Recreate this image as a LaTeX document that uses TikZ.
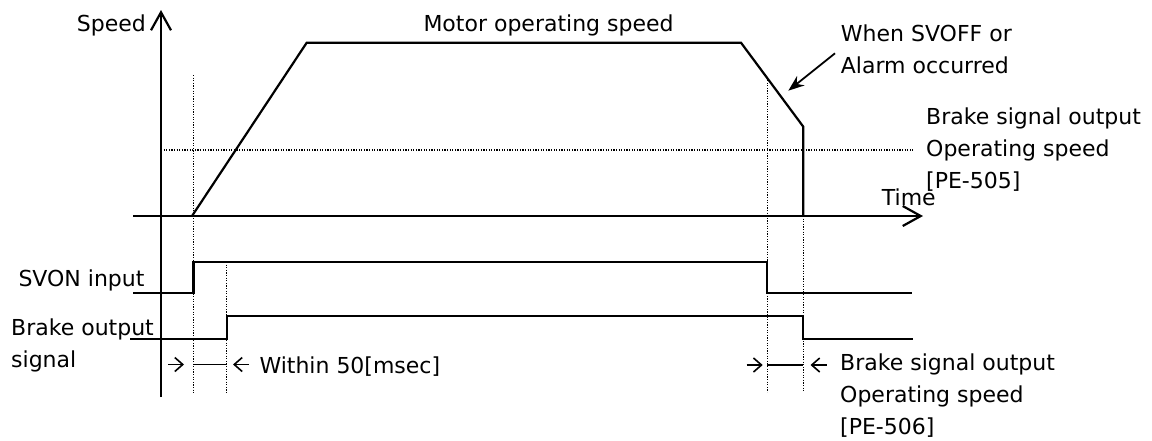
\documentclass[tikz,border=0pt]{standalone}
\usepackage{fontspec}
\setmainfont{DejaVu Sans}
\usetikzlibrary{arrows.meta}
\begin{document}
\begin{tikzpicture}[x=1pt,y=-1pt,
  lbl/.style={inner sep=0pt, font=\fontsize{22}{32}\selectfont},
  wave/.style={line width=2.2pt, line join=miter},
  guide/.style={line width=1.2pt, dash pattern=on 1.2pt off 1.4pt},
  axis/.style={line width=2.2pt, -{Straight Barb[length=18pt,width=20pt]}},
  meas/.style={line width=1.6pt, -{Straight Barb[length=8pt,width=14pt]}},
  gap/.style={line width=1.6pt},
  callout/.style={line width=1.8pt, -{Stealth[length=16pt,width=12pt]}},
]
\useasboundingbox (0,0) rectangle (1152,440);

% axes
\coordinate (ytop) at (161,10);
\coordinate (ybot) at (161,397);
\coordinate (xl) at (133,216);
\coordinate (xr) at (923,216);
\draw[axis] (ybot) -- (ytop);
\draw[axis] (xl) -- (xr);

% speed profile
\coordinate (s0) at (192,216);
\coordinate (s1) at (306.7,42.7);
\coordinate (s2) at (741,42.7);
\coordinate (s3) at (803.3,126.7);
\coordinate (s4) at (803.3,216);
\draw[wave] (s0) -- (s1) -- (s2) -- (s3) -- (s4);

% guides
\coordinate (h0) at (161,150);
\coordinate (h1) at (912.7,150);
\draw[guide] (h0) -- (h1);
\coordinate (g1a) at (193.3,75);   \coordinate (g1b) at (193.3,393);
\coordinate (g2a) at (226.7,262);  \coordinate (g2b) at (226.7,393);
\coordinate (g3a) at (767.3,80);   \coordinate (g3b) at (767.3,392);
\coordinate (g4a) at (803.3,216);  \coordinate (g4b) at (803.3,392);
\draw[guide] (g1a) -- (g1b);
\draw[guide] (g2a) -- (g2b);
\draw[guide] (g3a) -- (g3b);
\draw[guide] (g4a) -- (g4b);

% SVON input
\coordinate (v0) at (133,292.7);
\coordinate (v1) at (193.5,292.7);
\coordinate (v2) at (193.5,262.3);
\coordinate (v3) at (767.3,262.3);
\coordinate (v4) at (767.3,292.7);
\coordinate (v5) at (912,292.7);
\draw[wave] (v0) -- (v1) -- (v2) -- (v3) -- (v4) -- (v5);

% Brake output
\coordinate (b0) at (130,339);
\coordinate (b1) at (226.7,339);
\coordinate (b2) at (226.7,316);
\coordinate (b3) at (803.3,316);
\coordinate (b4) at (803.3,339);
\coordinate (b5) at (913,339);
\draw[wave] (b0) -- (b1) -- (b2) -- (b3) -- (b4) -- (b5);

% measurement marks left
\coordinate (ml0) at (168,364.5);  \coordinate (ml1) at (184,364.5);
\coordinate (ml2) at (193.3,364.5);\coordinate (ml3) at (226.7,364.5);
\coordinate (ml4) at (249,364.5);  \coordinate (ml5) at (233,364.5);
\draw[meas] (ml0) -- (ml1);
\draw[gap] (ml2) -- (ml3);
\draw[meas] (ml4) -- (ml5);

% measurement marks right
\coordinate (mr0) at (746.7,365);  \coordinate (mr1) at (762.7,365);
\coordinate (mr2) at (767.3,365);  \coordinate (mr3) at (803.3,365);
\coordinate (mr4) at (826.5,365);  \coordinate (mr5) at (810.5,365);
\draw[meas] (mr0) -- (mr1);
\draw[gap] (mr2) -- (mr3);
\draw[meas] (mr4) -- (mr5);

% callout arrow
\coordinate (c0) at (835,53.3);
\coordinate (c1) at (788.3,90.7);
\draw[callout] (c0) -- (c1);

% labels
\node[lbl, anchor=base east] (speed) at (146,31) {Speed};
\node[lbl, anchor=base west] (mos) at (423.3,31.5) {Motor operating speed};
\node[lbl, anchor=base west] (w1) at (840.7,41.7) {When SVOFF or};
\node[lbl, anchor=base west] (w2) at (840.7,73.7) {Alarm occurred};
\node[lbl, anchor=base west] (u1) at (926,124) {Brake signal output};
\node[lbl, anchor=base west] (u2) at (926,156) {Operating speed};
\node[lbl, anchor=base west] (u3) at (926,188) {[PE-505]};
\node[lbl, anchor=base west] (time) at (881.7,205) {Time};
\node[lbl, anchor=base west] (svon) at (18.3,286.7) {SVON input};
\node[lbl, anchor=base west] (bo1) at (11,335.7) {Brake output};
\node[lbl, anchor=base west] (bo2) at (11,367) {signal};
\node[lbl, anchor=base west] (within) at (259.3,373.3) {Within 50[msec]};
\node[lbl, anchor=base west] (l1) at (840,370.7) {Brake signal output};
\node[lbl, anchor=base west] (l2) at (840,402.7) {Operating speed};
\node[lbl, anchor=base west] (l3) at (840,434.7) {[PE-506]};
\end{tikzpicture}
\end{document}
